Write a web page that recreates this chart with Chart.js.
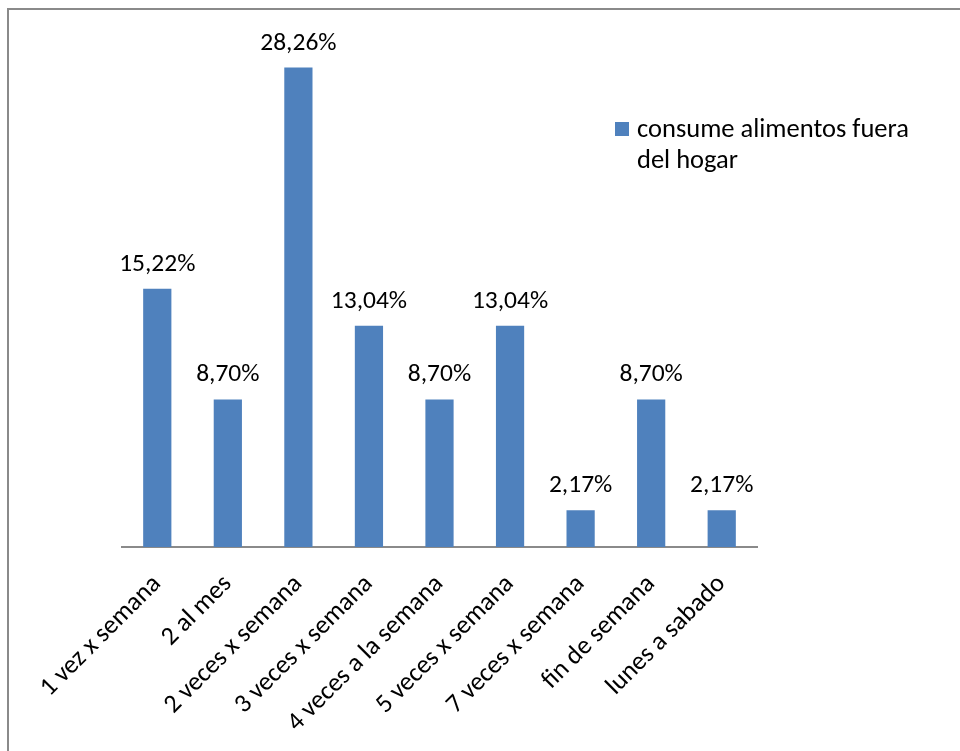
<!DOCTYPE html>
<html>
<head>
<meta charset="utf-8">
<script src="https://cdn.jsdelivr.net/npm/chart.js@4/dist/chart.umd.min.js"></script>
<style>
  html, body { margin: 0; padding: 0; background: #fff; }
  #wrap { position: relative; width: 960px; height: 751px; }
</style>
</head>
<body>
<div id="wrap"><canvas id="c" width="960" height="751"></canvas></div>
<script>
// Frecuencia de consumo de alimentos fuera del hogar
const categorias = [
  '1 vez x semana', '2 al mes', '2 veces x semana', '3 veces x semana',
  '4 veces a la semana', '5 veces x semana', '7 veces x semana',
  'fin de semana', 'lunes a sabado'
];
const porcentajes = [15.22, 8.70, 28.26, 13.04, 8.70, 13.04, 2.17, 8.70, 2.17];
const serie = 'consume alimentos fuera del hogar';

const FONT = 'Carlito, Calibri, Lato, sans-serif';
const AZUL = '#4F81BD';

const fmt = v => v.toFixed(2).replace('.', ',') + '%';

// marco exterior, etiquetas de valor y leyenda
const extras = {
  id: 'extras',
  beforeDraw(chart) {
    const ctx = chart.ctx;
    ctx.save();
    ctx.fillStyle = '#fff';
    ctx.fillRect(0, 0, chart.width, chart.height);
    ctx.strokeStyle = '#8a8a8a';
    ctx.lineWidth = 2;
    ctx.beginPath();
    ctx.moveTo(8, chart.height + 5);
    ctx.lineTo(8, 9);
    ctx.lineTo(chart.width + 5, 9);
    ctx.stroke();
    ctx.restore();
  },
  afterDatasetsDraw(chart) {
    const ctx = chart.ctx;
    const meta = chart.getDatasetMeta(0);
    ctx.save();
    ctx.fillStyle = '#000';
    ctx.font = '25.5px ' + FONT;
    ctx.textAlign = 'center';
    ctx.textBaseline = 'alphabetic';
    meta.data.forEach((bar, i) => {
      ctx.fillText(fmt(chart.data.datasets[0].data[i]), bar.x, bar.y - 18);
    });

    // leyenda en dos líneas
    const ds = chart.data.datasets[0];
    ctx.fillStyle = ds.backgroundColor;
    ctx.fillRect(615, 122, 14, 14);
    ctx.fillStyle = '#000';
    ctx.textAlign = 'left';
    ctx.font = '26.5px ' + FONT;
    const words = ds.label.split(' ');
    const lines = [];
    let line = '';
    words.forEach(w => {
      const t = line ? line + ' ' + w : w;
      if (ctx.measureText(t).width > 290 && line) { lines.push(line); line = w; }
      else line = t;
    });
    lines.push(line);
    lines.forEach((l, k) => ctx.fillText(l, 637, 137 + k * 31));
    ctx.restore();
  }
};

new Chart(document.getElementById('c'), {
  type: 'bar',
  data: {
    labels: categorias,
    datasets: [{
      label: serie,
      data: porcentajes,
      backgroundColor: AZUL,
      borderWidth: 0,
      categoryPercentage: 1,
      barPercentage: 0.4
    }]
  },
  options: {
    responsive: false,
    animation: false,
    layout: { padding: { left: 122, right: 203, top: 38, bottom: 0 } },
    plugins: {
      legend: { display: false },
      tooltip: { enabled: false }
    },
    scales: {
      x: {
        afterFit(scale) { scale.height = 204; },
        grid: { display: false, drawTicks: false },
        border: { display: true, color: '#8a8a8a', width: 2 },
        ticks: {
          color: '#000',
          font: { family: FONT, size: 26 },
          minRotation: 45,
          maxRotation: 45,
          autoSkip: false,
          padding: 22
        }
      },
      y: {
        display: false,
        min: 0,
        max: 30
      }
    }
  },
  plugins: [extras]
});
</script>
</body>
</html>
